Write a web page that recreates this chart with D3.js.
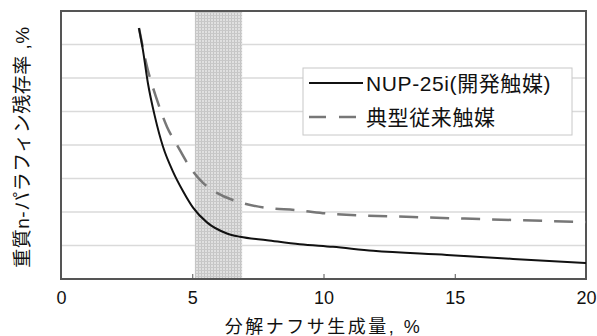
<!DOCTYPE html>
<html>
<head>
<meta charset="utf-8">
<script src="https://cdn.jsdelivr.net/npm/d3@7"></script>
<style>
  body { margin: 0; background: #fff; }
  text { font-family: "Liberation Sans", "Noto Sans CJK JP", sans-serif; fill: #111; }
</style>
</head>
<body>
<svg id="chart"></svg>
<script>
// Data
const xTicks = [0, 5, 10, 15, 20];
const yGrid = [10, 20, 30, 40, 50, 60, 70];
const band = [5.1, 6.9];

const nupX = [2.97, 3.12, 3.31, 3.58, 3.89, 4.27, 4.65, 5.03, 5.56, 6.32, 6.82, 7.85, 9.1, 10.36, 11.89, 14.7, 17.22, 20];
const nupY = [74.9, 68.4, 58.5, 48.4, 39.4, 32.0, 26.2, 21.3, 16.9, 13.6, 12.6, 11.6, 10.4, 9.6, 8.4, 7.2, 6.0, 4.8];

const convX = [2.97, 3.28, 3.66, 4.04, 4.42, 4.91, 5.41, 5.94, 6.82, 7.85, 8.9, 10.36, 13.4, 15.96, 20];
const convY = [74.9, 63.3, 53.4, 45.4, 40.0, 33.4, 28.7, 25.7, 22.9, 21.2, 20.6, 19.4, 18.5, 17.9, 17.0];

const seriesNames = ["NUP-25i(開発触媒)", "典型従来触媒"];

const W = 597, H = 336;
const margin = { left: 61, top: 11, right: 11, bottom: 57 };

const svg = d3.select("#chart").attr("width", W).attr("height", H);

const x = d3.scaleLinear().domain([0, 20]).range([margin.left, W - margin.right]);
const y = d3.scaleLinear().domain([0, 80]).range([H - margin.bottom, margin.top]);

// stippled pattern for the shaded band
const defs = svg.append("defs");
const pat = defs.append("pattern")
    .attr("id", "stipple")
    .attr("width", 3).attr("height", 3)
    .attr("patternUnits", "userSpaceOnUse");
pat.append("rect").attr("width", 3).attr("height", 3).attr("fill", "#e0e0e0");
pat.append("rect").attr("width", 1).attr("height", 3).attr("fill", "#c4c4c4");
pat.append("rect").attr("width", 3).attr("height", 1).attr("fill", "#c8c8c8");

// grid lines
svg.append("g")
    .selectAll("line")
    .data(yGrid)
    .enter().append("line")
    .attr("x1", x(0)).attr("x2", x(20))
    .attr("y1", d => y(d)).attr("y2", d => y(d))
    .attr("stroke", "#dadada")
    .attr("stroke-width", 1.5);

// shaded region
svg.append("rect")
    .attr("x", x(band[0]))
    .attr("y", y(80))
    .attr("width", x(band[1]) - x(band[0]))
    .attr("height", y(0) - y(80))
    .attr("fill", "url(#stipple)");

// frame
svg.append("rect")
    .attr("x", x(0)).attr("y", y(80))
    .attr("width", x(20) - x(0))
    .attr("height", y(0) - y(80))
    .attr("fill", "none")
    .attr("stroke", "#555")
    .attr("stroke-width", 2);

// x axis with small inward ticks
const xAxis = d3.axisBottom(x)
    .tickValues(xTicks)
    .tickSize(-5)
    .tickPadding(12);
const gx = svg.append("g")
    .attr("transform", `translate(0,${y(0)})`)
    .call(xAxis);
gx.select(".domain").remove();
gx.selectAll(".tick line").attr("stroke", "#555").attr("stroke-width", 1);
gx.selectAll(".tick text")
    .attr("font-size", 18)
    .attr("font-family", "Liberation Sans, sans-serif")
    .attr("fill", "#111");

// curves
const line = d3.line()
    .x(d => x(d[0]))
    .y(d => y(d[1]))
    .curve(d3.curveMonotoneX);

const nup = d3.zip(nupX, nupY);
const conv = d3.zip(convX, convY);

svg.append("path")
    .datum(conv)
    .attr("d", line)
    .attr("fill", "none")
    .attr("stroke", "#777")
    .attr("stroke-width", 2.5)
    .attr("stroke-dasharray", "19,12");

svg.append("path")
    .datum(nup)
    .attr("d", line)
    .attr("fill", "none")
    .attr("stroke", "#111")
    .attr("stroke-width", 2);

// legend
const lg = svg.append("g").attr("transform", "translate(303,68)");
lg.append("rect")
    .attr("width", 269).attr("height", 67)
    .attr("fill", "#fff")
    .attr("stroke", "#c8c8c8")
    .attr("stroke-width", 1);
const rows = lg.selectAll("g.row")
    .data(seriesNames)
    .enter().append("g")
    .attr("class", "row")
    .attr("transform", (d, i) => `translate(0,${15 + i * 34})`);
rows.append("line")
    .attr("x1", 6).attr("x2", 60)
    .attr("y1", 0).attr("y2", 0)
    .attr("stroke", (d, i) => i === 0 ? "#111" : "#777")
    .attr("stroke-width", (d, i) => i === 0 ? 2 : 2.5)
    .attr("stroke-dasharray", (d, i) => i === 0 ? null : "17,13");
rows.append("text")
    .attr("x", 63)
    .attr("y", 0)
    .attr("dy", "0.36em")
    .attr("font-size", 21)
    .attr("letter-spacing", 0.6)
    .text(d => d);

// axis titles
svg.append("text")
    .attr("x", (x(0) + x(20)) / 2)
    .attr("y", 327)
    .attr("text-anchor", "middle")
    .attr("dy", "0.35em")
    .attr("font-size", 18)
    .attr("letter-spacing", 2.5)
    .text("分解ナフサ生成量, %");

svg.append("text")
    .attr("transform", `translate(22,${(y(0) + y(80)) / 2 + 2}) rotate(-90)`)
    .attr("text-anchor", "middle")
    .attr("dy", "0.35em")
    .attr("font-size", 19)
    .attr("letter-spacing", 0.5)
    .text("重質n-パラフィン残存率 ,%");
</script>
</body>
</html>
